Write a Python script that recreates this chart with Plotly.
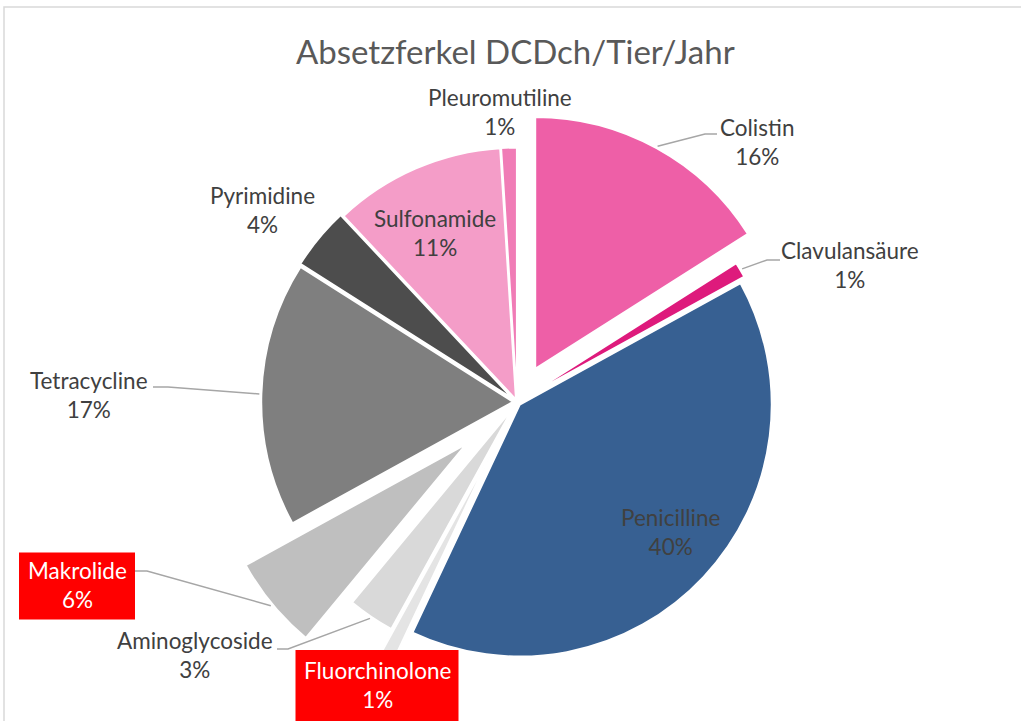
import math
import plotly.graph_objects as go

# Antibiotic classes, clockwise from 12 o'clock
categories = ["Colistin", "Clavulansäure", "Penicilline", "Fluorchinolone",
              "Aminoglycoside", "Makrolide", "Tetracycline", "Pyrimidine",
              "Sulfonamide", "Pleuromutiline"]
shares = [16, 1, 40, 1, 3, 6, 17, 4, 11, 1]

pulls = [0.15, 0.03, 0.015, 0.22, 0.03, 0.26, 0.015, 0.02, 0.01, 0.01]
colors = ["#EE5FA7", "#DE1A7C", "#376092", "#E4E4E4", "#D9D9D9",
          "#BFBFBF", "#7F7F7F", "#4D4D4D", "#F49DC8", "#F07CB6"]

W, H = 1021, 721
CX, CY, R = 517, 402, 252
FONT = "Lato"
TXT = "#404040"
LEADER = "#A6A6A6"

max_pull = max(pulls)
half = R * (1 + max_pull)
dom_x = [(CX - half) / W, (CX + half) / W]
dom_y = [1 - (CY + half) / H, 1 - (CY - half) / H]

total = sum(shares)


def px(x, y):
    return x / W, 1 - y / H


def arc_point(i, extra=0.0):
    start = sum(shares[:i]) / total * 360
    mid = math.radians(start + shares[i] / total * 180)
    d = R * (1 + pulls[i]) + extra
    return CX + d * math.sin(mid), CY - d * math.cos(mid)


fig = go.Figure(go.Pie(
    labels=categories, values=shares, sort=False, direction="clockwise",
    rotation=0, pull=pulls, textinfo="none", hoverinfo="label+percent",
    marker=dict(colors=colors, line=dict(color="white", width=2)),
    domain=dict(x=dom_x, y=dom_y), showlegend=False,
))

# label centres (pixels) and whether the label sits on a red box
label_pos = {
    "Pleuromutiline": (500, 112, False),
    "Colistin": (757, 142, False),
    "Clavulansäure": (850, 265, False),
    "Penicilline": (670, 532, False),
    "Fluorchinolone": (377, 685, True),
    "Aminoglycoside": (195, 655, False),
    "Makrolide": (77, 585, True),
    "Tetracycline": (89, 395, False),
    "Pyrimidine": (262, 210, False),
    "Sulfonamide": (435, 233, False),
}
box_size = {"Fluorchinolone": (163, 72), "Makrolide": (116, 67)}

# leader line elbows near each label, ending on the slice arc
leaders = {
    "Colistin": [(717, 134), (705, 134)],
    "Clavulansäure": [(780, 260), (767, 260)],
    "Tetracycline": [(153, 387), (168, 387)],
    "Makrolide": [(135, 571), (147, 571)],
    "Aminoglycoside": [(277, 649), (288, 649)],
}

shapes = []
annotations = []

# chart frame
fx0, fy0 = px(4, 7)
fx1, _ = px(W + 5, 7)
_, fy1 = px(4, H + 5)
shapes.append(dict(type="path", xref="paper", yref="paper",
                   path=f"M {fx1},{fy0} L {fx0},{fy0} L {fx0},{fy1}",
                   line=dict(color="#D9D9D9", width=1.5)))

for cat, pts in leaders.items():
    i = categories.index(cat)
    ax, ay = arc_point(i, 2)
    all_pts = pts + [(ax, ay)]
    p = " L ".join(f"{px(x, y)[0]},{px(x, y)[1]}" for x, y in all_pts)
    shapes.append(dict(type="path", xref="paper", yref="paper", path="M " + p,
                       line=dict(color=LEADER, width=1.5)))

for i, cat in enumerate(categories):
    x, y, boxed = label_pos[cat]
    if boxed:
        bw, bh = box_size[cat]
        x0, y0 = px(x - bw / 2, y - bh / 2 + 1)
        x1, y1 = px(x + bw / 2, y + bh / 2 + 1)
        shapes.append(dict(type="rect", xref="paper", yref="paper",
                           x0=x0, x1=x1, y0=y0, y1=y1, layer="above",
                           fillcolor="#FF0000", line=dict(width=0)))
    ax_, ay_ = px(x, y)
    annotations.append(dict(
        x=ax_, y=ay_, xref="paper", yref="paper", xanchor="center",
        yanchor="middle", showarrow=False,
        text=f"{cat}<br>{shares[i]}%",
        font=dict(family=FONT, size=22.5, color="white" if boxed else TXT),
    ))

tx, ty = px(515, 51)
annotations.append(dict(
    x=tx, y=ty, xref="paper", yref="paper", xanchor="center", yanchor="middle",
    showarrow=False, text="Absetzferkel DCDch/Tier/Jahr",
    font=dict(family=FONT, size=33, color="#595959"),
))

fig.update_layout(
    width=W, height=H, margin=dict(l=0, r=0, t=0, b=0),
    paper_bgcolor="white", plot_bgcolor="white",
    shapes=shapes, annotations=annotations,
)

fig.write_html("out.html")
